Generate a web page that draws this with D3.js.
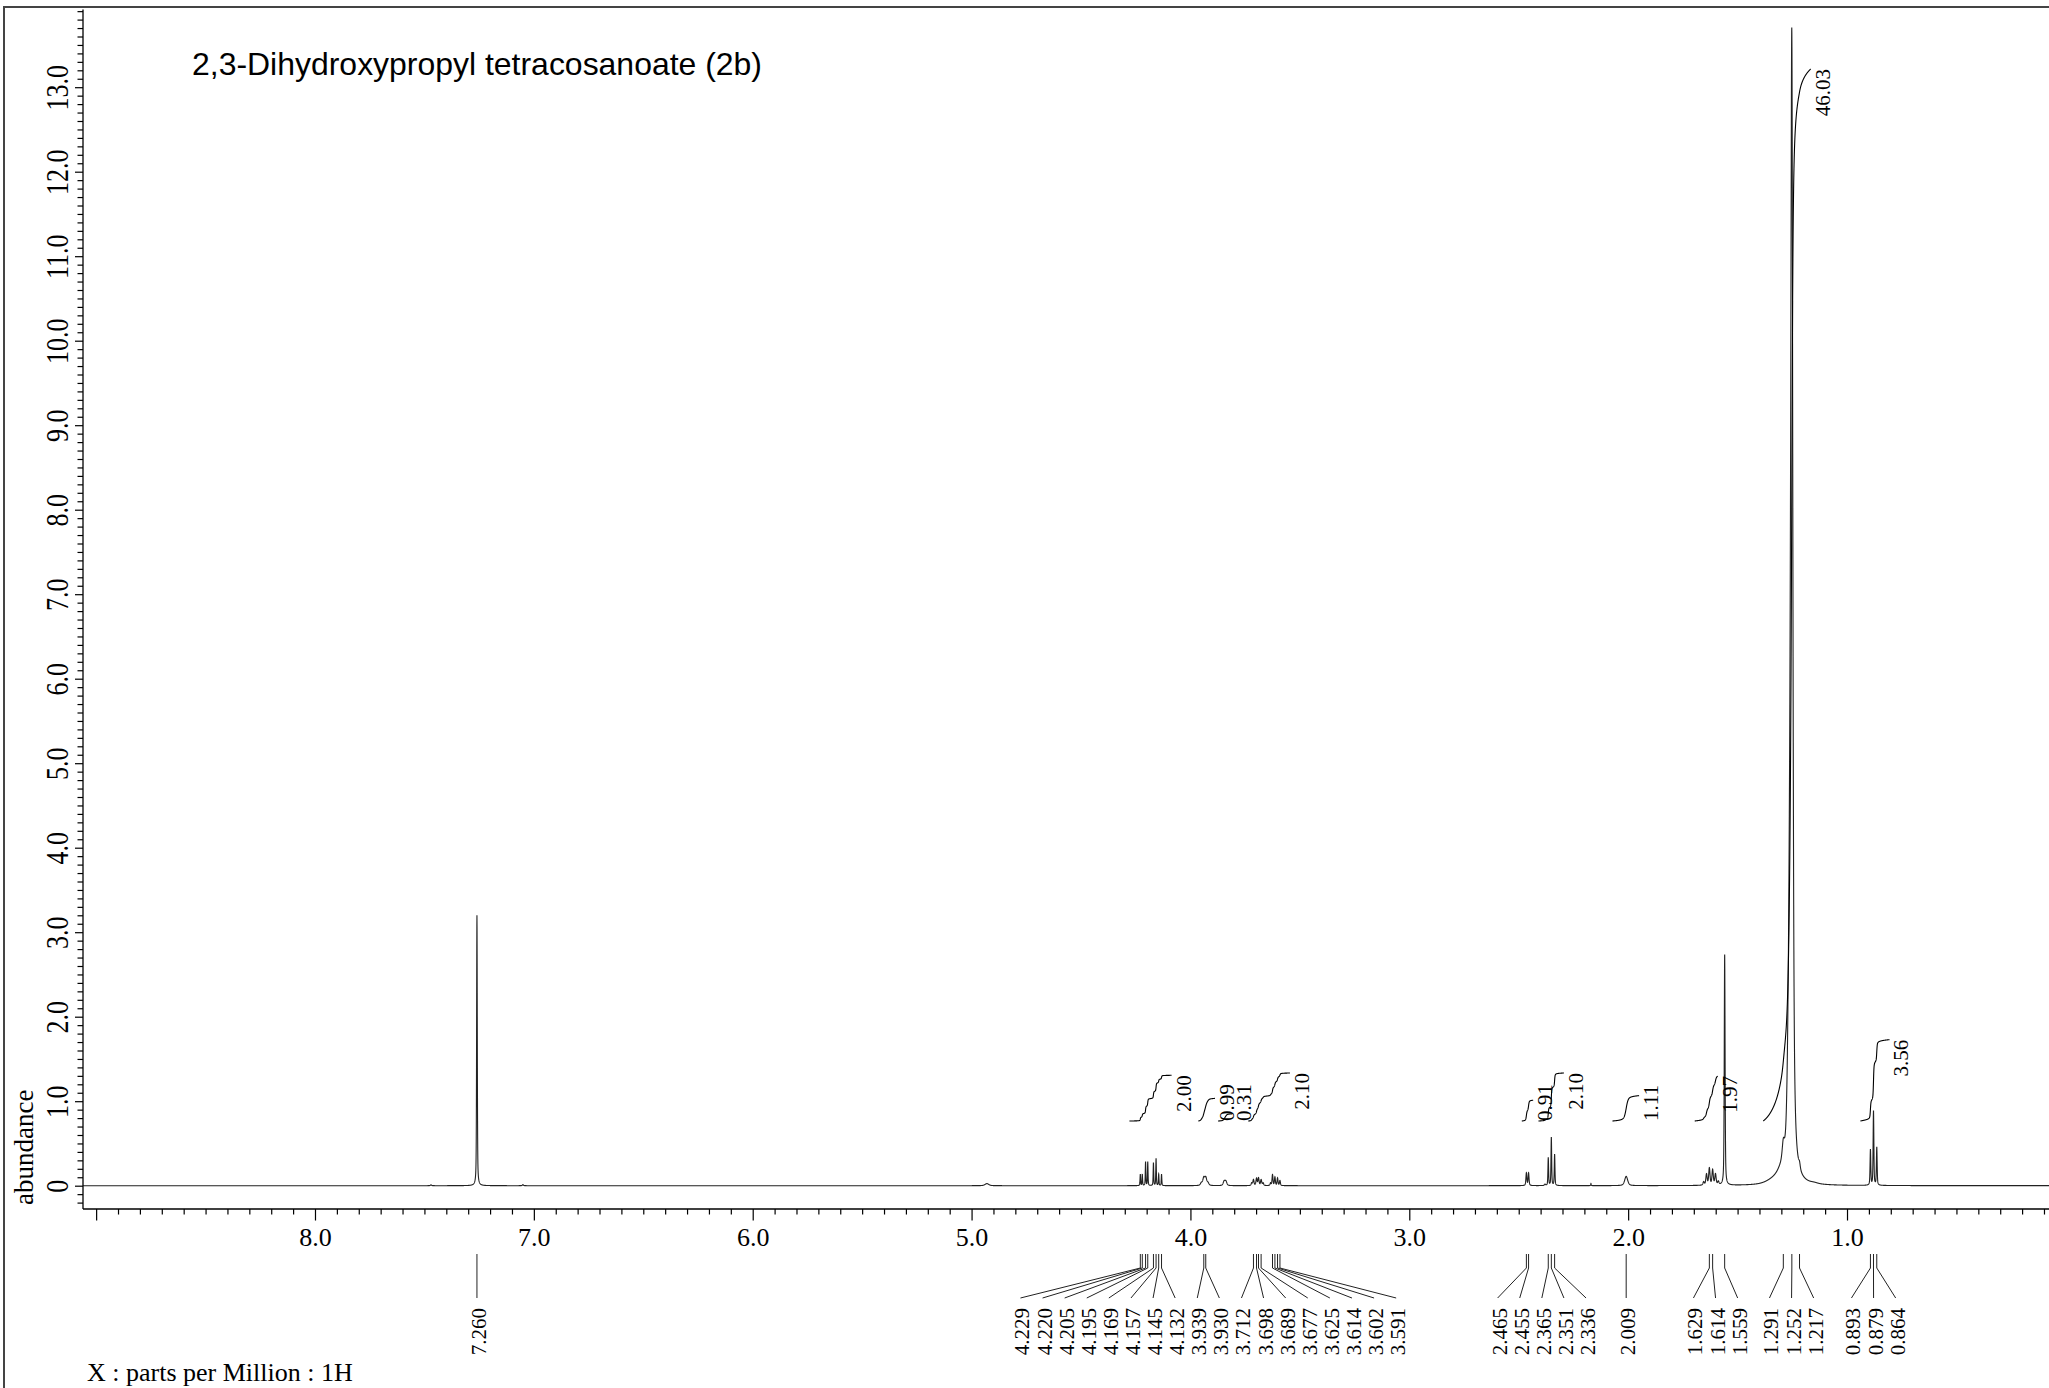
<!DOCTYPE html>
<html><head><meta charset="utf-8">
<script src="https://cdn.jsdelivr.net/npm/d3@7"></script>
<style>body{margin:0;background:#fff}svg{display:block}</style>
</head><body>
<svg id="c" width="2049" height="1388"></svg>
<script>
// ---------------- data ----------------
const title = "2,3-Dihydroxypropyl tetracosanoate (2b)";
const xAxisTitle = "X : parts per Million : 1H";
const yAxisTitle = "abundance";

// spectrum peaks: chemical shift (ppm), apex height (abundance), half width (ppm)
const peakShift = [7.47, 7.26, 7.05, 4.93,
  4.229, 4.220, 4.205, 4.195, 4.169, 4.157, 4.145, 4.132,
  3.950, 3.939, 3.930, 3.920,
  3.846, 3.838,
  3.720, 3.712, 3.698, 3.689, 3.677, 3.668,
  3.634, 3.625, 3.614, 3.602, 3.591,
  2.465, 2.455, 2.380, 2.365, 2.351, 2.336, 2.170, 2.009,
  1.655, 1.642, 1.629, 1.614, 1.601, 1.588, 1.559,
  1.330, 1.300, 1.291, 1.258, 1.252, 1.217, 1.150,
  0.893, 0.879, 0.864];
const peakHeight = [0.01, 3.2, 0.012, 0.025,
  0.135, 0.135, 0.28, 0.28, 0.27, 0.32, 0.135, 0.135,
  0.03, 0.09, 0.09, 0.03,
  0.05, 0.05,
  0.03, 0.07, 0.085, 0.09, 0.07, 0.03,
  0.03, 0.13, 0.10, 0.09, 0.06,
  0.15, 0.15, 0.015, 0.33, 0.57, 0.37, 0.025, 0.11,
  0.04, 0.13, 0.20, 0.18, 0.13, 0.04, 2.73,
  0.05, 0.08, 0.20, 4.4, 10.3, 0.06, 0.01,
  0.42, 0.88, 0.45];
const peakWidth = [0.003, 0.0018, 0.003, 0.01,
  0.0015, 0.0015, 0.0015, 0.0015, 0.0015, 0.0015, 0.0015, 0.0015,
  0.005, 0.005, 0.005, 0.005,
  0.005, 0.005,
  0.003, 0.003, 0.003, 0.003, 0.003, 0.003,
  0.0025, 0.0025, 0.0025, 0.0025, 0.0025,
  0.0025, 0.0025, 0.003, 0.0018, 0.0018, 0.0018, 0.0015, 0.008,
  0.0035, 0.0035, 0.0035, 0.0035, 0.0035, 0.0035, 0.0022,
  0.04, 0.02, 0.006, 0.01, 0.005, 0.004, 0.02,
  0.002, 0.002, 0.002];

// peak picking labels
const peakLabels = ["7.260",
  "4.229","4.220","4.205","4.195","4.169","4.157","4.145","4.132",
  "3.939","3.930",
  "3.712","3.698","3.689","3.677","3.625","3.614","3.602","3.591",
  "2.465","2.455","2.365","2.351","2.336",
  "2.009",
  "1.629","1.614","1.559",
  "1.291","1.252","1.217",
  "0.893","0.879","0.864"];

// integrals: range start / end (ppm) and value
const integralStart = [4.279, 3.964, 3.874, 3.736, 2.486, 2.41, 2.072, 1.696, 1.383, 0.939];
const integralEnd   = [4.086, 3.888, 3.810, 3.545, 2.434, 2.293, 1.950, 1.591, 1.166, 0.806];
const integralValue = ["2.00", "0.99", "0.31", "2.10", "0.91", "2.10", "1.11", "1.97", "46.03", "3.56"];

// axis ticks
const xMajorTicks = [9, 8, 7, 6, 5, 4, 3, 2, 1];
const xTickLabels = ["", "8.0", "7.0", "6.0", "5.0", "4.0", "3.0", "2.0", "1.0"];
const yMajorTicks = [0, 1, 2, 3, 4, 5, 6, 7, 8, 9, 10, 11, 12, 13];
const yTickLabels = ["0", "1.0", "2.0", "3.0", "4.0", "5.0", "6.0", "7.0", "8.0", "9.0", "10.0", "11.0", "12.0", "13.0"];

// ---------------- layout ----------------
const W = 2049, H = 1388;
const svg = d3.select("#c");
const serif = "'Liberation Serif','Times New Roman',Times,serif";
const sans = "'Liberation Sans',Arial,Helvetica,sans-serif";

const x = d3.scaleLinear().domain([9.06, 0]).range([83, 83 + 9.06 * 218.86]);
const y = d3.scaleLinear().domain([0, 13]).range([1185.7, 87.2]);
const yLo = -0.276, yHi = 13.92;
const axisY = y(yLo), axisX = x(9.06);
const yInt = d3.scaleLinear().domain([0, 46.03]).range([1121, 69]);

// outer frame
svg.append("rect").attr("x", 4).attr("y", 7).attr("width", W + 50).attr("height", H + 50)
  .attr("fill", "none").attr("stroke", "#444").attr("stroke-width", 2);

// title
svg.append("text").attr("x", 192).attr("y", 75).attr("font-family", sans)
  .attr("font-size", 32).attr("textLength", 570).attr("lengthAdjust", "spacingAndGlyphs")
  .attr("fill", "#000").text(title);

// ---------------- spectrum ----------------
const eta = 0.5;
function shape(p) {
  let s = 0;
  for (let i = 0; i < peakShift.length; i++) {
    const r = (p - peakShift[i]) / peakWidth[i];
    const r2 = r * r;
    s += peakHeight[i] * (eta / (1 + r2) + (1 - eta) * Math.exp(-0.6931 * r2));
  }
  return s;
}
let grid = d3.range(0, 9.0601, 0.0004).concat(peakShift);
grid = Array.from(new Set(grid.map(v => +v.toFixed(5)))).sort((a, b) => b - a);
const spec = grid.map(p => [p, shape(p)]);

svg.append("path").datum(spec)
  .attr("d", d3.line().x(d => x(d[0])).y(d => y(d[1])))
  .attr("fill", "none").attr("stroke", "#222").attr("stroke-width", 1.1);

// ---------------- axes ----------------
const xMinor = d3.range(1, 91).map(i => i / 10).filter(v => Math.abs(v - Math.round(v)) > 1e-6);
const gxMinor = svg.append("g").attr("transform", `translate(0,${axisY})`)
  .call(d3.axisBottom(x).tickValues(xMinor).tickSize(5.5).tickFormat(""));
const gxMajor = svg.append("g").attr("transform", `translate(0,${axisY})`)
  .call(d3.axisBottom(x).tickValues(xMajorTicks).tickSize(11.5)
    .tickFormat((d, i) => xTickLabels[i]));
[gxMinor, gxMajor].forEach(g => { g.select(".domain").remove(); g.selectAll("line").attr("stroke", "#000").attr("stroke-width", 1.2); });
gxMajor.selectAll("text").attr("y", 37).attr("dy", 0).attr("font-family", serif)
  .attr("font-size", 26).attr("fill", "#000");

const yMinor = d3.range(-2, 140).map(i => i / 10).filter(v => Math.abs(v - Math.round(v)) > 1e-6);
const gyMinor = svg.append("g").attr("transform", `translate(${axisX},0)`)
  .call(d3.axisLeft(y).tickValues(yMinor).tickSize(5.5).tickFormat(""));
const gyMajor = svg.append("g").attr("transform", `translate(${axisX},0)`)
  .call(d3.axisLeft(y).tickValues(yMajorTicks).tickSize(8)
    .tickFormat((d, i) => yTickLabels[i]));
[gyMinor, gyMajor].forEach(g => { g.select(".domain").remove(); g.selectAll("line").attr("stroke", "#000").attr("stroke-width", 1.2); });
gyMajor.selectAll("text").attr("x", 0).attr("dy", 0).attr("text-anchor", "middle")
  .attr("transform", "translate(-15,0) rotate(-90) scale(1,1.2)")
  .attr("font-family", serif).attr("font-size", 26).attr("fill", "#000");

// axis lines
svg.append("line").attr("x1", axisX).attr("x2", W + 10).attr("y1", axisY).attr("y2", axisY)
  .attr("stroke", "#000").attr("stroke-width", 1.3);
svg.append("line").attr("x1", axisX).attr("x2", axisX).attr("y1", y(yHi)).attr("y2", axisY)
  .attr("stroke", "#000").attr("stroke-width", 1.3);

// axis titles
svg.append("text").attr("transform", `translate(33,1205) rotate(-90)`)
  .attr("font-family", serif).attr("font-size", 27).attr("fill", "#000").text(yAxisTitle);
svg.append("text").attr("x", 87).attr("y", 1381).attr("font-family", serif)
  .attr("font-size", 26).attr("fill", "#000").text(xAxisTitle);

// ---------------- integrals ----------------
const intBase = yInt(0);
integralValue.forEach((val, k) => {
  const a = integralStart[k], b = integralEnd[k];
  const pts = spec.filter(d => d[0] <= a && d[0] >= b);
  let cum = [0];
  for (let i = 1; i < pts.length; i++) {
    cum.push(cum[i - 1] + (pts[i - 1][0] - pts[i][0]) * (pts[i - 1][1] + pts[i][1]) / 2);
  }
  const total = cum[cum.length - 1];
  const v = +val;
  const line = pts.map((d, i) => [x(d[0]), yInt(v * cum[i] / total)]);
  svg.append("path").attr("d", d3.line()(line)).attr("fill", "none")
    .attr("stroke", "#000").attr("stroke-width", 1.1);
  const endX = x(b), topY = yInt(v);
  const t = svg.append("text").attr("font-family", serif).attr("font-size", 21)
    .attr("fill", "#000").attr("text-anchor", "end").text(val);
  const len = t.node().getComputedTextLength();
  const ty = Math.min(topY, intBase - len);
  t.attr("transform", `translate(${endX + 19},${ty}) rotate(-90)`);
});

// ---------------- peak labels ----------------
const sp = 22.1;
const items = peakLabels.map(t => ({ t, px: x(+t) })).sort((a, b) => a.px - b.px);
let groups = items.map(d => ({ m: [d], c: d.px }));
let merged = true;
while (merged) {
  merged = false;
  for (let i = 0; i < groups.length - 1; i++) {
    const A = groups[i], B = groups[i + 1];
    const aR = A.c + (A.m.length - 1) * sp / 2, bL = B.c - (B.m.length - 1) * sp / 2;
    if (bL - aR < sp) {
      const m = A.m.concat(B.m);
      groups.splice(i, 2, { m, c: d3.mean(m, d => d.px) });
      merged = true; break;
    }
  }
}
groups.forEach(g => g.m.forEach((d, k) => { d.lx = g.c + (k - (g.m.length - 1) / 2) * sp; }));
const gl = svg.append("g");
items.forEach(d => {
  gl.append("path").attr("d", `M${d.px},1254L${d.px},1268L${d.lx},1298`)
    .attr("fill", "none").attr("stroke", "#222").attr("stroke-width", 1);
  gl.append("text").attr("transform", `translate(${d.lx + 9},1308) rotate(-90)`)
    .attr("text-anchor", "end").attr("font-family", serif).attr("font-size", 21)
    .attr("fill", "#000").text(d.t);
});
</script>
</body></html>
